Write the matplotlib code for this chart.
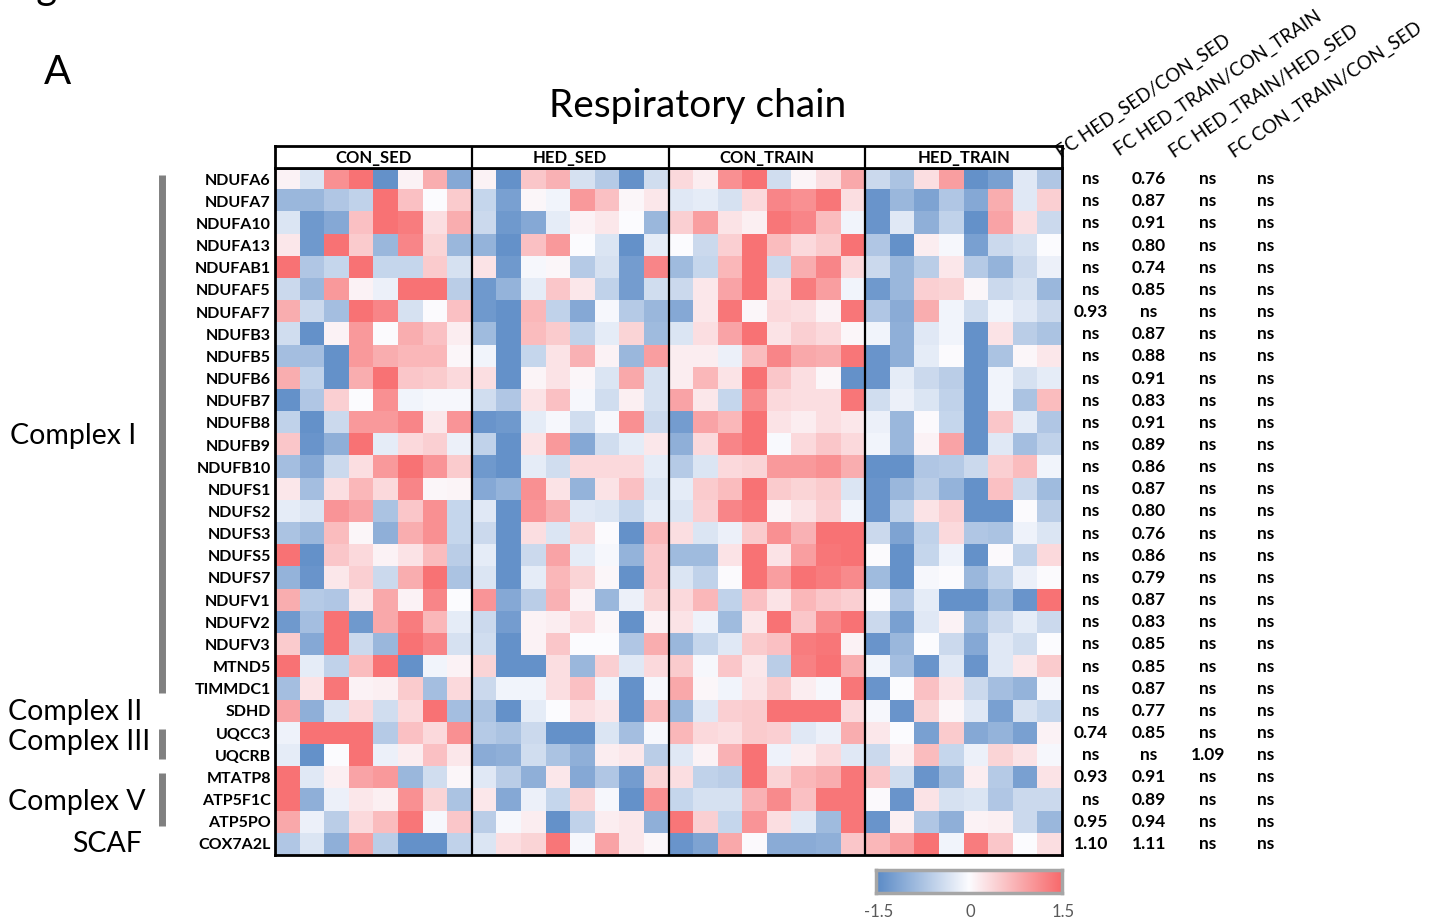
import numpy as np
import matplotlib
matplotlib.use("Agg")
import matplotlib.pyplot as plt
from matplotlib.colors import LinearSegmentedColormap
from matplotlib.transforms import blended_transform_factory

plt.rcParams['font.family'] = ['Lato', 'DejaVu Sans']

genes = ["NDUFA6", "NDUFA7", "NDUFA10", "NDUFA13", "NDUFAB1", "NDUFAF5", "NDUFAF7",
         "NDUFB3", "NDUFB5", "NDUFB6", "NDUFB7", "NDUFB8", "NDUFB9", "NDUFB10",
         "NDUFS1", "NDUFS2", "NDUFS3", "NDUFS5", "NDUFS7", "NDUFV1", "NDUFV2", "NDUFV3",
         "MTND5", "TIMMDC1", "SDHD", "UQCC3", "UQCRB", "MTATP8", "ATP5F1C", "ATP5PO",
         "COX7A2L"]
groups = ["CON_SED", "HED_SED", "CON_TRAIN", "HED_TRAIN"]

# z-scored expression per sample (8 samples per group)
con_sed = [
    [0.1, -0.3, 1.1, 1.4, -1.4, 0.1, 0.8, -1.1],
    [-0.9, -0.9, -0.7, -0.55, 1.4, 0.6, 0.0, 0.5],
    [-0.3, -1.3, -1.1, 0.6, 1.4, 1.3, 0.3, 0.8],
    [0.2, -1.3, 1.4, 0.5, -0.9, 1.2, 0.4, -0.9],
    [1.4, -0.7, -0.5, 1.4, -0.5, -0.5, 0.5, -0.35],
    [-0.45, -0.9, 1.0, 0.1, -0.15, 1.4, 1.4, -0.6],
    [0.8, -0.45, -0.8, 1.4, 1.2, -0.35, 0.02, 0.6],
    [-0.4, -1.4, 0.1, 1.0, 0.02, 0.8, 0.6, 0.15],
    [-0.8, -0.8, -1.4, 1.0, 0.8, 0.7, 0.7, 0.05],
    [0.8, -0.55, -1.4, 0.8, 1.4, 0.55, 0.5, 0.35],
    [-1.4, -0.7, 0.45, 0.0, 1.1, -0.1, -0.05, -0.05],
    [-0.55, -1.4, -0.45, 1.0, 1.0, 1.2, 0.2, 1.05],
    [0.55, -1.35, -1.0, 1.4, -0.2, 0.35, 0.45, -0.15],
    [-0.8, -1.1, -0.45, 0.3, 1.0, 1.4, 1.05, 0.5],
    [0.2, -0.8, 0.3, 0.7, 0.35, 1.2, 0.05, 0.08],
    [-0.2, -0.3, 1.05, 0.9, -0.75, 0.55, 1.1, -0.5],
    [-0.75, -0.9, 0.65, 0.05, -1.0, 0.8, 1.1, -0.5],
    [1.4, -1.4, 0.55, 0.35, 0.1, 0.25, 0.65, -0.6],
    [-0.95, -1.35, 0.2, 0.45, -0.45, 0.8, 1.4, -0.75],
    [0.8, -0.65, -0.7, 0.2, 0.85, 0.1, 1.2, 0.0],
    [-1.3, -0.8, 1.4, -1.3, 0.85, 1.3, 0.7, -0.2],
    [0.5, -1.1, 1.4, -0.45, -0.9, 1.4, 1.2, -0.35],
    [1.4, -0.2, -0.55, 0.65, 1.4, -1.4, -0.1, 0.1],
    [-0.8, 0.25, 1.35, 0.1, 0.12, 0.5, -0.8, 0.35],
    [0.9, -1.0, -0.3, 0.35, -0.4, 0.35, 1.4, -0.8],
    [-0.12, 1.4, 1.4, 1.4, -0.65, 0.6, 0.35, 1.1],
    [-0.2, -1.4, 0.0, 1.4, -0.15, 0.15, 0.6, 0.2],
    [1.4, -0.25, 0.12, 0.9, 1.0, -0.9, -0.4, 0.05],
    [1.4, -1.0, -0.15, 0.2, 0.12, 1.1, 0.4, -0.75],
    [0.85, -0.15, -0.6, 0.35, 0.65, 1.35, -0.05, 0.55],
    [-0.7, -0.3, -1.0, 0.95, -0.6, -1.4, -1.4, -0.55],
]

hed_sed = [
    [0.1, -1.4, 0.55, 0.75, -0.35, -0.65, -1.4, -0.4],
    [-0.5, -1.2, 0.05, -0.1, 1.0, 0.6, 0.05, 0.2],
    [-0.45, -1.3, -1.1, -0.2, 0.1, 0.2, 0.0, -0.9],
    [-0.95, -1.4, 0.6, 1.0, 0.0, -0.3, -1.4, -0.2],
    [0.25, -1.3, -0.05, 0.05, -0.65, -0.35, -1.25, 1.2],
    [-1.3, -0.95, -0.2, 0.55, 0.2, -0.55, -1.25, -0.4],
    [-1.3, -1.4, 0.7, -0.55, -1.1, -0.05, -0.65, -0.9],
    [-0.85, -1.4, 0.65, 0.5, -0.55, -0.2, 0.4, -0.85],
    [-0.1, -1.4, -0.5, 0.25, 0.75, 0.1, -0.9, 0.95],
    [0.3, -1.4, 0.08, 0.25, 0.05, -0.3, 0.85, -0.35],
    [-0.4, -0.7, 0.25, 0.6, -0.05, -0.4, 0.12, -0.35],
    [-1.35, -1.3, -0.2, -0.05, -0.4, -0.05, 1.1, -0.45],
    [-0.55, -1.4, 0.25, 1.0, -1.1, -0.4, -0.2, 0.2],
    [-1.3, -1.4, -0.2, -0.4, 0.35, 0.35, 0.35, -0.2],
    [-1.1, -0.95, 1.1, 0.25, -0.95, 0.25, 0.6, -0.3],
    [-0.25, -1.4, 1.05, 0.8, -0.25, -0.3, -0.5, -0.2],
    [-0.45, -1.4, 0.3, -0.3, 0.4, 0.02, -1.4, 0.7],
    [-0.2, -1.4, -0.45, 0.9, -0.2, -0.05, -0.95, 0.55],
    [-0.3, -1.4, -0.2, 0.7, 0.4, 0.05, -1.4, 0.55],
    [1.05, -1.1, -0.6, 0.75, 0.1, -0.9, -0.15, 0.4],
    [-0.45, -1.25, 0.1, 0.15, 0.35, 0.05, -1.4, 0.1],
    [-0.4, -1.4, 0.1, 0.55, 0.0, 0.0, -0.7, 0.8],
    [0.4, -1.4, -1.4, 0.3, -0.9, 0.45, -0.25, 0.35],
    [-0.45, -0.1, -0.1, 0.3, 0.6, -0.1, -1.4, -0.05],
    [-0.75, -1.4, -0.2, 0.0, 0.3, 0.2, -1.4, 0.65],
    [-0.65, -0.75, -0.45, -1.4, -1.4, -0.3, -0.8, -0.05],
    [-1.05, -1.0, -0.4, -0.75, -1.0, 0.15, 0.2, -0.6],
    [-0.25, -0.6, -1.0, 0.2, -1.1, -0.7, -1.25, 0.4],
    [0.2, -1.1, -0.15, -0.5, 0.4, -0.05, -1.4, 1.1],
    [-0.6, -0.05, 0.15, -1.4, -0.55, 0.15, 0.2, -1.0],
    [-0.3, 0.3, 0.4, 1.35, -0.05, 0.9, 0.2, 0.05],
]

con_train = [
    [0.35, 0.15, 1.1, 1.4, -0.4, 0.08, 0.3, 0.85],
    [-0.25, -0.2, -0.35, 0.35, 1.2, 1.1, 1.35, 0.3],
    [0.45, 0.95, 0.25, 0.12, 1.35, 1.2, 0.65, -0.1],
    [0.0, -0.45, 0.45, 1.4, 0.65, 0.35, 0.5, 1.4],
    [-0.85, -0.5, 0.7, 1.4, -0.45, 0.8, 1.2, 0.35],
    [-0.45, 0.2, 0.9, 1.4, 0.3, 1.3, 0.95, -0.1],
    [-1.1, 0.2, 1.35, 0.05, 0.35, 0.3, 0.1, 1.35],
    [-0.3, 0.3, 0.9, 1.4, 0.25, 0.45, 0.35, 0.05],
    [0.15, 0.15, -0.15, 0.65, 1.2, 0.85, 0.8, 1.35],
    [0.15, 0.7, 0.25, 1.4, 0.55, 0.3, 0.05, -1.4],
    [0.9, 0.2, -0.5, 1.15, 0.35, 0.3, 0.3, 1.35],
    [-1.25, 0.9, 0.7, 1.4, 0.25, 0.15, 0.3, 0.2],
    [-1.0, 0.35, 1.2, 1.4, -0.03, 0.35, 0.55, 0.35],
    [-0.65, -0.3, 0.35, 0.4, 1.0, 1.0, 1.1, 0.8],
    [-0.2, 0.5, 0.65, 1.4, 0.5, 0.4, 0.5, -0.3],
    [-0.3, 0.45, 1.2, 1.35, 0.08, 0.25, 0.45, -0.1],
    [0.3, -0.3, -0.15, 0.5, 1.1, 0.75, 1.4, 1.4],
    [-0.85, -0.85, 0.25, 1.4, 0.25, 0.95, 1.35, 1.4],
    [-0.3, -0.55, 0.02, 1.4, 0.95, 1.4, 1.3, 1.15],
    [0.35, 0.7, -0.55, 0.6, 0.25, 0.7, 0.55, 0.45],
    [0.25, -0.12, -0.85, 0.2, 1.4, 0.55, 1.15, 1.4],
    [-0.9, -0.5, -0.25, 0.5, 0.6, 1.3, 1.35, 0.1],
    [0.5, -0.05, 0.55, 0.2, -0.6, 1.25, 1.4, 0.8],
    [0.85, 0.05, -0.1, 0.25, 0.5, 0.15, -0.05, 1.35],
    [-0.9, -0.25, 0.45, 0.5, 1.4, 1.4, 1.4, 0.35],
    [0.7, 0.35, 0.3, 0.5, 0.45, -0.25, -0.15, 0.8],
    [-0.25, 0.1, 0.75, 1.4, -0.12, 0.15, 0.35, -0.25],
    [0.3, -0.55, -0.6, 1.4, 0.4, 0.7, 0.8, 1.35],
    [-0.5, -0.35, -0.35, 0.75, 1.15, 0.6, 1.35, 1.35],
    [1.35, 0.45, -0.5, 1.05, 0.3, -0.25, -0.85, 1.35],
    [-1.35, -1.15, 0.85, 0.03, -1.05, -1.05, -1.0, 0.55],
]

hed_train = [
    [-0.45, -0.75, 0.3, 0.95, -1.4, -1.2, -0.25, -0.7],
    [-1.35, -0.9, -1.15, -0.7, -1.1, 0.8, -0.25, 0.45],
    [-1.35, -0.25, -1.0, -0.55, -1.4, 0.9, 0.3, -0.45],
    [-0.7, -1.4, 0.15, -0.05, -1.2, -0.45, -0.35, 0.0],
    [-0.45, -0.9, -0.6, 0.2, -0.65, -0.95, -0.45, -0.15],
    [-1.3, -0.9, 0.45, 0.4, 0.05, -0.45, -0.35, -0.9],
    [-0.7, -1.05, 0.8, -0.1, -0.4, -0.1, -0.25, -0.45],
    [-0.1, -1.0, -0.25, -0.1, -1.4, 0.25, -0.6, -0.75],
    [-1.35, -1.0, -0.2, 0.02, -1.4, -0.75, 0.05, 0.2],
    [-1.35, -0.2, -0.45, -0.6, -1.4, -0.1, -0.35, -0.2],
    [-0.4, -0.15, -0.3, -0.55, -1.4, -0.1, -0.75, 0.65],
    [-0.15, -0.9, 0.03, -0.5, -1.4, 0.55, -0.2, -0.7],
    [-0.1, -0.9, 0.1, 0.9, -1.4, -0.25, -0.8, -0.55],
    [-1.4, -1.4, -0.7, -0.65, -0.45, 0.45, 0.65, -0.1],
    [-1.35, -0.9, -0.6, -0.95, -1.4, 0.6, -0.45, -0.85],
    [-1.35, -0.55, 0.25, 0.45, -1.4, -1.4, 0.02, -0.6],
    [-0.45, -1.15, -0.55, 0.35, -0.7, -0.75, -0.12, -0.3],
    [0.02, -1.4, -0.5, -0.12, -1.4, 0.03, -0.55, 0.35],
    [-0.85, -1.4, -0.05, 0.02, -0.9, -0.55, -0.15, 0.02],
    [0.02, -0.7, -0.2, -1.4, -1.4, -0.85, -1.35, 1.4],
    [-0.45, -1.2, -0.25, 0.1, -0.85, -0.45, -0.2, -0.45],
    [-1.35, -0.9, 0.0, -0.45, -1.1, -0.25, -0.4, 0.0],
    [-0.1, -0.8, -1.35, -0.25, -1.35, -0.25, 0.2, 0.5],
    [-1.35, 0.0, 0.6, 0.25, -0.45, -0.8, -0.95, -0.05],
    [-0.05, -1.35, 0.4, 0.05, -0.25, -1.2, -0.35, -0.5],
    [0.2, 0.0, -1.2, 0.5, -1.1, -0.95, -1.2, 0.1],
    [-0.45, 0.12, 0.65, -0.5, -0.15, 0.4, 0.25, -0.05],
    [0.55, -0.4, -1.35, -0.85, 0.15, -0.65, -1.2, 0.25],
    [0.03, -1.35, 0.25, -0.35, -0.3, -0.7, -0.45, -0.45],
    [-1.35, 0.12, -0.7, -1.0, 0.1, 0.12, -0.45, -0.9],
    [0.7, 0.95, 1.4, -0.1, 1.3, 0.55, 0.0, 0.3],
]

fc_labels = ["FC HED_SED/CON_SED", "FC HED_TRAIN/CON_TRAIN",
             "FC HED_TRAIN/HED_SED", "FC CON_TRAIN/CON_SED"]
fc_hedsed_consed = ["ns"] * 6 + ["0.93"] + ["ns"] * 18 + ["0.74", "ns", "0.93", "ns", "0.95", "1.10"]
fc_hedtrain_contrain = ["0.76", "0.87", "0.91", "0.80", "0.74", "0.85", "ns", "0.87", "0.88",
                        "0.91", "0.83", "0.91", "0.89", "0.86", "0.87", "0.80", "0.76", "0.86",
                        "0.79", "0.87", "0.83", "0.85", "0.85", "0.87", "0.77", "0.85", "ns",
                        "0.91", "0.89", "0.94", "1.11"]
fc_hedtrain_hedsed = ["ns"] * 26 + ["1.09"] + ["ns"] * 4
fc_contrain_consed = ["ns"] * 31

complexes = [("Complex I", 0, 23), ("Complex II", 24, 24), ("Complex III", 25, 26),
             ("Complex V", 27, 29), ("SCAF", 30, 30)]

# ---- figure layout (pixel-based helpers) ----
W, H = 1435, 922
fig = plt.figure(figsize=(W / 100, H / 100), dpi=100)
fig.patch.set_facecolor("white")


def px_axes(x0, y0, x1, y1):
    return fig.add_axes([x0 / W, 1 - y1 / H, (x1 - x0) / W, (y1 - y0) / H])


cmap = LinearSegmentedColormap.from_list("excel3", ["#5A8AC6", "#FCFCFF", "#F8696B"])

data = np.hstack([np.array(con_sed), np.array(hed_sed),
                  np.array(con_train), np.array(hed_train)])
n_rows, n_cols = data.shape
per_group = n_cols // len(groups)

HX0, HX1, HY0, HY1 = 275, 1062, 168, 855
ax = px_axes(HX0, HY0, HX1, HY1)
ax.imshow(data, cmap=cmap, vmin=-1.5, vmax=1.5, aspect="auto", interpolation="nearest")
ax.set_xticks([])
ax.set_yticks(range(n_rows))
ax.set_yticklabels(genes, fontweight="bold", fontsize=11.5)
ax.tick_params(axis="y", length=0, pad=3)
for s in ax.spines.values():
    s.set_linewidth(2)
    s.set_color("black")
for g in range(1, len(groups)):
    ax.axvline(g * per_group - 0.5, color="black", lw=1.6)

# group header strip
hax = px_axes(HX0, 146, HX1, HY0)
hax.set_xlim(0, n_cols)
hax.set_ylim(0, 1)
hax.set_xticks([])
hax.set_yticks([])
for s in hax.spines.values():
    s.set_linewidth(2)
for g, name in enumerate(groups):
    hax.text((g + 0.5) * per_group, 0.45, name, ha="center", va="center",
             fontweight="bold", fontsize=12)
    if g:
        hax.axvline(g * per_group, color="black", lw=1.6)

# fold-change table to the right
tr = blended_transform_factory(fig.transFigure, ax.transData)
fc_cols = [fc_hedsed_consed, fc_hedtrain_contrain, fc_hedtrain_hedsed, fc_contrain_consed]
fc_x = [1091, 1149, 1208, 1266]
for col, xp in zip(fc_cols, fc_x):
    for i, v in enumerate(col):
        ax.text(xp / W, i, v, transform=tr, ha="center", va="center",
                fontweight="bold", fontsize=12.5, clip_on=False)

fc_anchor = [(1063, 161), (1121, 159), (1176, 161), (1236, 161)]
for lab, (xp, yp) in zip(fc_labels, fc_anchor):
    fig.text(xp / W, 1 - yp / H, lab, rotation=34, rotation_mode="anchor",
             ha="left", va="bottom", fontsize=13.5)

# complex brackets and labels on the left
label_pos = {"Complex I": (10, 11.6), "Complex II": (8, 24.05), "Complex III": (8, 25.4),
             "Complex V": (8, 28.1), "SCAF": (72, 30.0)}
for name, r0, r1 in complexes:
    if r1 > r0:
        ax.plot([162 / W, 162 / W], [r0 - 0.5 + 0.32, r1 + 0.5 - 0.32], transform=tr,
                color="#808080", lw=5, solid_capstyle="butt", clip_on=False)
    xp, yv = label_pos[name]
    ax.text(xp / W, yv, name, transform=tr, ha="left", va="center",
            fontsize=20.5, clip_on=False)

# titles
fig.text(698 / W, 1 - 106 / H, "Respiratory chain", ha="center", va="center", fontsize=28)
fig.text(44 / W, 1 - 72 / H, "A", ha="left", va="center", fontsize=29)
fig.text(4 / W, 1 + 1 / H, "Figure 6", ha="left", va="baseline", fontsize=29)

# colour scale bar
cax = px_axes(876, 870, 1062, 893)
grad = np.linspace(-1.5, 1.5, 256)[None, :]
cax.imshow(grad, cmap=cmap, vmin=-1.5, vmax=1.5, aspect="auto",
           extent=[-1.5, 1.5, 0, 1])
cax.set_xticks([])
cax.set_yticks([])
for s in cax.spines.values():
    s.set_color("#A6A6A6")
    s.set_linewidth(2.5)
for v, xp in [(-1.5, 879), (0, 970), (1.5, 1063)]:
    fig.text(xp / W, 1 - 912 / H, f"{v:g}", ha="center", va="center",
             fontsize=12, color="#595959")

fig.savefig("out.png", dpi=100)
